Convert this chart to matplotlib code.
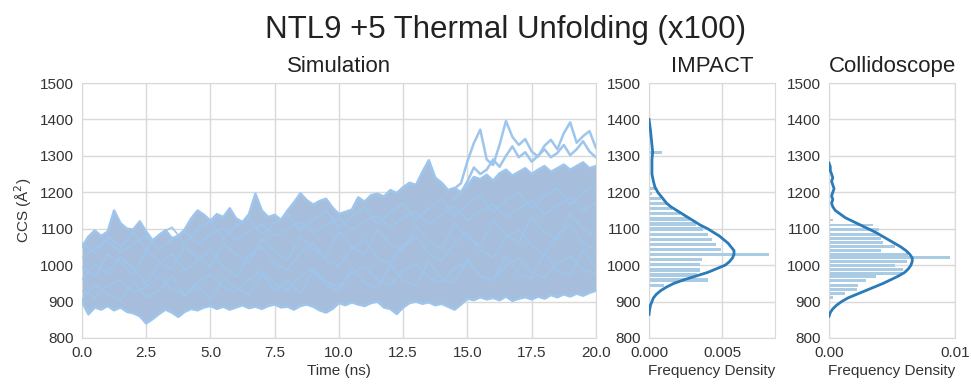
import numpy as np
import matplotlib
matplotlib.use("Agg")
import matplotlib.pyplot as plt

plt.rcParams['font.family'] = ['Liberation Sans', 'DejaVu Sans']

# --- simulation: time grid and hand-read traces (CCS in A^2) ---
time_fine = np.linspace(0, 20, 81)      # 0.25 ns steps
time_coarse = np.linspace(0, 20, 41)    # 0.5 ns steps
time_late = np.linspace(14.5, 20, 23)   # late high-flying traces

band_upper = [1050, 1078, 1095, 1080, 1092, 1150, 1115, 1100, 1098, 1120,
              1092, 1068, 1082, 1096, 1074, 1080, 1098, 1128, 1150, 1138,
              1122, 1140, 1132, 1156, 1128, 1118, 1140, 1196, 1150, 1132,
              1138, 1124, 1150, 1172, 1197, 1178, 1166, 1176, 1182, 1158,
              1140, 1146, 1152, 1186, 1174, 1192, 1196, 1188, 1206, 1198,
              1214, 1226, 1220, 1256, 1288, 1240, 1226, 1206, 1212, 1200,
              1218, 1242, 1236, 1248, 1232, 1252, 1262, 1246, 1256, 1266,
              1250, 1262, 1272, 1256, 1266, 1276, 1262, 1272, 1282, 1266,
              1272]
band_lower = [900, 865, 884, 878, 888, 876, 884, 872, 868, 860,
              840, 852, 866, 878, 870, 858, 872, 880, 876, 884,
              888, 880, 886, 878, 884, 890, 882, 886, 880, 888,
              892, 884, 886, 878, 888, 892, 886, 876, 870, 880,
              896, 890, 898, 892, 888, 896, 900, 884, 880, 866,
              884, 896, 900, 894, 898, 890, 894, 886, 878, 892,
              908, 904, 912, 906, 910, 904, 914, 902, 908, 912,
              906, 914, 908, 918, 912, 920, 914, 922, 916, 924,
              930]

mid_a = [960, 1004, 978, 1022, 991, 948, 1003, 1031, 986, 1012, 1043, 996,
         968, 1027, 1052, 1004, 987, 1034, 1061, 1013, 998, 1046, 1072, 1018,
         1007, 1056, 1079, 1032, 1012, 1062, 1088, 1041, 1021, 1074, 1098,
         1052, 1031, 1083, 1108, 1061, 1044]
mid_b = [930, 912, 945, 960, 925, 940, 968, 934, 918, 952, 975, 940, 926,
         962, 984, 948, 932, 970, 990, 955, 941, 978, 996, 960, 946, 985,
         1004, 966, 952, 992, 1010, 972, 958, 998, 1018, 980, 966, 1006, 1024,
         988, 974]
mid_c = [1020, 1048, 1066, 1034, 1058, 1080, 1046, 1070, 1092, 1058, 1084,
         1102, 1068, 1094, 1112, 1080, 1098, 1118, 1088, 1110, 1128, 1096,
         1120, 1136, 1104, 1130, 1148, 1112, 1140, 1160, 1122, 1148, 1168,
         1132, 1156, 1176, 1140, 1164, 1186, 1150, 1172]
mid_d = [905, 948, 920, 902, 956, 912, 930, 970, 915, 944, 904, 962, 938,
         918, 976, 930, 958, 922, 984, 946, 928, 992, 952, 936, 1002, 958,
         944, 1010, 962, 950, 1018, 970, 958, 1026, 978, 964, 1034, 986, 972,
         1040, 992]
mid_e = [995, 968, 1030, 1008, 974, 1040, 1012, 988, 1052, 1020, 996, 1060,
         1030, 1006, 1072, 1036, 1014, 1080, 1044, 1022, 1092, 1050, 1030,
         1098, 1058, 1040, 1108, 1066, 1046, 1116, 1074, 1054, 1124, 1082,
         1062, 1132, 1090, 1070, 1142, 1098, 1080]
mid_f = [1060, 1032, 1078, 1050, 1090, 1044, 1084, 1104, 1060, 1098, 1122,
         1072, 1108, 1130, 1084, 1116, 1140, 1096, 1124, 1150, 1104, 1136,
         1160, 1112, 1146, 1170, 1124, 1156, 1182, 1134, 1168, 1192, 1144,
         1178, 1200, 1156, 1190, 1212, 1166, 1200, 1220]

high_a = [1210, 1225, 1285, 1335, 1372, 1290, 1275, 1330, 1396, 1352, 1330,
          1346, 1312, 1298, 1328, 1344, 1318, 1362, 1392, 1336, 1354, 1368,
          1322]
high_b = [1180, 1200, 1230, 1268, 1250, 1262, 1290, 1270, 1300, 1326, 1296,
          1310, 1284, 1300, 1318, 1296, 1308, 1330, 1302, 1318, 1340, 1312,
          1296]

# --- IMPACT histogram + KDE ---
impact_bins = [945, 959, 973, 987, 1001, 1015, 1029, 1043, 1057, 1071, 1085,
               1099, 1113, 1127, 1141, 1155, 1169, 1183, 1197, 1211, 1309]
impact_density = [0.0010, 0.0040, 0.0033, 0.0035, 0.0035, 0.0036, 0.0082,
                  0.0049, 0.0046, 0.0043, 0.0040, 0.0037, 0.0032, 0.0028,
                  0.0021, 0.0016, 0.0012, 0.0008, 0.0002, 0.0004, 0.0009]
impact_kde_ccs = [865, 880, 890, 900, 910, 920, 930, 940, 950, 960, 970, 980,
                  990, 1000, 1010, 1020, 1030, 1040, 1050, 1060, 1070, 1080,
                  1090, 1100, 1110, 1120, 1130, 1140, 1150, 1160, 1170, 1180,
                  1190, 1200, 1215, 1230, 1250, 1270, 1290, 1310, 1330, 1350,
                  1370, 1385, 1400]
impact_kde = [0.0, 0.00005, 0.0001, 0.0002, 0.0003, 0.0005, 0.0008, 0.0012,
              0.0017, 0.0024, 0.0032, 0.0040, 0.0046, 0.0052, 0.0055, 0.0057,
              0.0058, 0.0058, 0.0056, 0.0054, 0.0051, 0.0048, 0.0044, 0.0040,
              0.0035, 0.0031, 0.0027, 0.0023, 0.0019, 0.0015, 0.0012, 0.0010,
              0.0008, 0.0006, 0.0004, 0.0003, 0.0002, 0.0002, 0.0002, 0.00025,
              0.0002, 0.00015, 0.0001, 0.00005, 0.0]

# --- Collidoscope histogram + KDE ---
collido_bins = [912, 923, 934, 945, 957, 968, 978, 989, 1000, 1010, 1021,
                1030, 1040, 1051, 1063, 1074, 1085, 1098, 1110, 1124]
collido_density = [0.0003, 0.0013, 0.0022, 0.0023, 0.0029, 0.0037, 0.0058,
                   0.0059, 0.0052, 0.0062, 0.0096, 0.0063, 0.0041, 0.0052,
                   0.0043, 0.0041, 0.0039, 0.0040, 0.0035, 0.0003]
collido_kde_ccs = [860, 870, 880, 890, 900, 910, 920, 930, 940, 950, 960,
                   970, 980, 990, 1000, 1010, 1020, 1030, 1040, 1050, 1060,
                   1070, 1080, 1090, 1100, 1110, 1120, 1130, 1140, 1150, 1160,
                   1170, 1180, 1190, 1200, 1210, 1220, 1230, 1240, 1250, 1260,
                   1270, 1280]
collido_kde = [0.0, 0.0001, 0.0003, 0.0006, 0.0010, 0.0015, 0.0022, 0.0029,
               0.0036, 0.0043, 0.0049, 0.0055, 0.0060, 0.0063, 0.0065, 0.0066,
               0.0066, 0.0064, 0.0061, 0.0057, 0.0052, 0.0047, 0.0042, 0.0037,
               0.0031, 0.0025, 0.0019, 0.0013, 0.0009, 0.0005, 0.0003, 0.0002,
               0.0003, 0.0002, 0.0003, 0.0004, 0.0003, 0.0002, 0.0003, 0.0002,
               0.0001, 0.0001, 0.0]

ccs_ticks = [800, 900, 1000, 1100, 1200, 1300, 1400, 1500]

LINE = '#9ec5ec'
FILL = '#a6bedb'
BAR = '#a9cbe4'
KDE = '#2a7bb8'
GRID = '#d9d9d9'
TXT = '#333333'


def style_axis(ax):
    ax.set_ylim(800, 1500)
    ax.set_yticks(ccs_ticks)
    ax.grid(True, color=GRID, linewidth=1.0)
    ax.set_axisbelow(True)
    for s in ax.spines.values():
        s.set_color(GRID)
    ax.tick_params(length=0, labelsize=11, colors=TXT, pad=6)


fig = plt.figure(figsize=(9.71, 3.85), dpi=100)

ax_sim = fig.add_axes([0.0844, 0.1221, 0.5293, 0.6623])
ax_imp = fig.add_axes([0.6684, 0.1221, 0.1298, 0.6623])
ax_col = fig.add_axes([0.8538, 0.1221, 0.1298, 0.6623])

# simulation band: envelope fill, interior traces, outer traces on top
ax_sim.fill_between(time_fine, band_lower, band_upper, color=FILL, lw=0, zorder=2)
for trace in (mid_a, mid_b, mid_c, mid_d, mid_e, mid_f):
    ax_sim.plot(time_coarse, trace, color=LINE, lw=1.2, zorder=3)
ax_sim.plot(time_fine, band_upper, color=LINE, lw=1.8, zorder=4)
ax_sim.plot(time_fine, band_lower, color=LINE, lw=1.8, zorder=4)
ax_sim.plot(time_late, high_b, color=LINE, lw=1.8, zorder=4)
ax_sim.plot(time_late, high_a, color=LINE, lw=1.8, zorder=4)
ax_sim.set_xlim(0, 20)
ax_sim.set_xticks([0, 2.5, 5, 7.5, 10, 12.5, 15, 17.5, 20])
ax_sim.set_xticklabels(['0.0', '2.5', '5.0', '7.5', '10.0', '12.5', '15.0', '17.5', '20.0'])
style_axis(ax_sim)
ax_sim.set_xlabel('Time (ns)', fontsize=11, color=TXT, labelpad=3)
ax_sim.set_ylabel('CCS (Å$^2$)', fontsize=11, color=TXT, labelpad=4)
ax_sim.set_title('Simulation', fontsize=16, color='#222222', pad=8)

# IMPACT
ax_imp.barh(impact_bins, impact_density, height=9, color=BAR, zorder=2)
ax_imp.plot(impact_kde, impact_kde_ccs, color=KDE, lw=2.0, zorder=3)
ax_imp.set_xlim(0, 0.0086)
ax_imp.set_xticks([0, 0.005])
ax_imp.set_xticklabels(['0.000', '0.005'])
style_axis(ax_imp)
ax_imp.set_xlabel('Frequency Density', fontsize=11, color=TXT, labelpad=3)
ax_imp.set_title('IMPACT', fontsize=16, color='#222222', pad=8)

# Collidoscope
ax_col.barh(collido_bins, collido_density, height=7.5, color=BAR, zorder=2)
ax_col.plot(collido_kde, collido_kde_ccs, color=KDE, lw=2.0, zorder=3)
ax_col.set_xlim(0, 0.01)
ax_col.set_xticks([0, 0.01])
ax_col.set_xticklabels(['0.00', '0.01'])
style_axis(ax_col)
ax_col.set_xlabel('Frequency Density', fontsize=11, color=TXT, labelpad=3)
ax_col.set_title('Collidoscope', fontsize=16, color='#222222', pad=8)

fig.text(0.521, 0.922, 'NTL9 +5 Thermal Unfolding (x100)', fontsize=22.5,
         color='#222222', ha='center', va='center')

fig.savefig('out.png', dpi=100)
